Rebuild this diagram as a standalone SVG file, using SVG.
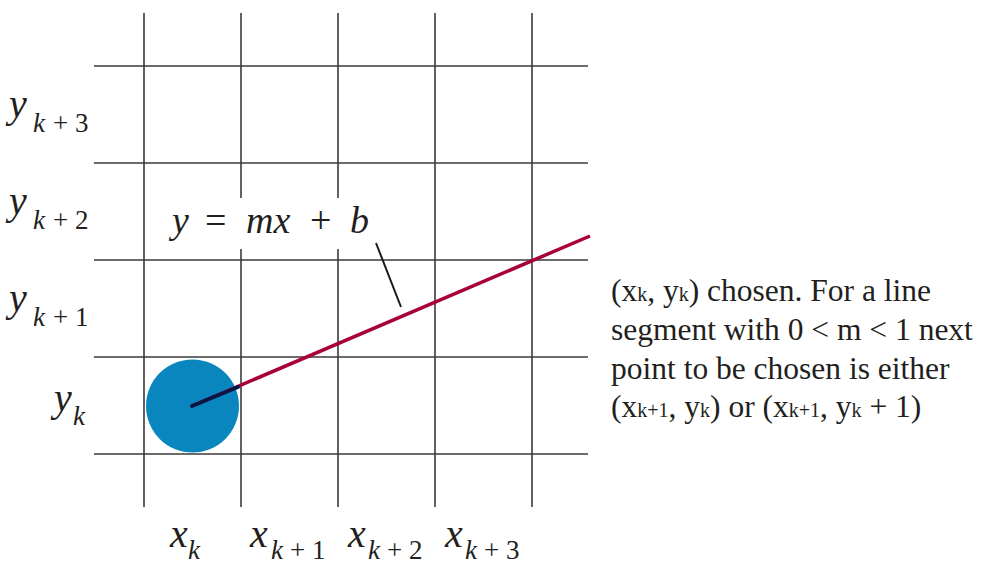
<svg xmlns="http://www.w3.org/2000/svg" width="982" height="566" viewBox="0 0 982 566">
  <style>
    .grid { stroke: #3a3a3a; stroke-width: 1.6; fill: none; }
    .mi { font-style: italic; fill: #231f20; }
    .mr { fill: #231f20; }
    .main { font-size: 40px; }
    .sub { font-size: 27px; }
    .body { font-size: 31.5px; fill: #231f20; }
    .sm { font-size: 20px; }
  </style>
  <rect width="982" height="566" fill="#ffffff"/>

  <g id="grid">
    <line class="grid" x1="144" y1="13" x2="144" y2="507"/>
    <line class="grid" x1="241" y1="13" x2="241" y2="507"/>
    <line class="grid" x1="338" y1="13" x2="338" y2="507"/>
    <line class="grid" x1="435" y1="13" x2="435" y2="507"/>
    <line class="grid" x1="532" y1="13" x2="532" y2="507"/>
    <line class="grid" x1="94" y1="66" x2="588" y2="66"/>
    <line class="grid" x1="94" y1="163" x2="588" y2="163"/>
    <line class="grid" x1="94" y1="260" x2="588" y2="260"/>
    <line class="grid" x1="94" y1="357" x2="588" y2="357"/>
    <line class="grid" x1="94" y1="454" x2="588" y2="454"/>
  </g>

  <g id="y-labels" font-family="Liberation Serif, DejaVu Serif, serif">
    <text x="9" y="117"><tspan class="mi main">y</tspan><tspan class="mi sub" x="33" y="132">k</tspan><tspan class="mr sub" x="53" y="132">+ 3</tspan></text>
    <text x="9" y="214"><tspan class="mi main">y</tspan><tspan class="mi sub" x="33" y="229">k</tspan><tspan class="mr sub" x="53" y="229">+ 2</tspan></text>
    <text x="9" y="311"><tspan class="mi main">y</tspan><tspan class="mi sub" x="33" y="326">k</tspan><tspan class="mr sub" x="53" y="326">+ 1</tspan></text>
    <text x="54" y="411"><tspan class="mi main">y</tspan><tspan class="mi sub" x="73" y="425">k</tspan></text>
  </g>

  <g id="x-labels" font-family="Liberation Serif, DejaVu Serif, serif">
    <text x="170" y="547"><tspan class="mi main">x</tspan><tspan class="mi sub" x="188" y="559">k</tspan></text>
    <text x="250" y="547"><tspan class="mi main">x</tspan><tspan class="mi sub" x="271" y="559">k</tspan><tspan class="mr sub" x="290" y="559">+ 1</tspan></text>
    <text x="348" y="547"><tspan class="mi main">x</tspan><tspan class="mi sub" x="368" y="559">k</tspan><tspan class="mr sub" x="387" y="559">+ 2</tspan></text>
    <text x="445" y="547"><tspan class="mi main">x</tspan><tspan class="mi sub" x="465" y="559">k</tspan><tspan class="mr sub" x="484" y="559">+ 3</tspan></text>
  </g>

  <g id="equation" font-family="Liberation Serif, DejaVu Serif, serif">
    <rect x="160" y="198" width="218" height="51" fill="#ffffff"/>
    <text y="233" font-size="38"><tspan class="mi" x="172">y</tspan><tspan class="mr" x="205">=</tspan><tspan class="mi" x="246">mx</tspan><tspan class="mr" x="310">+</tspan><tspan class="mi" x="350">b</tspan></text>
  </g>

  <g id="pixel">
    <circle cx="192.5" cy="406" r="46.5" fill="#0a86bf"/>
  </g>

  <g id="connectors">
    <line x1="192" y1="406" x2="590" y2="236" stroke="#a8003c" stroke-width="3.5"/>
    <line x1="192" y1="406" x2="238" y2="387" stroke="#0b1646" stroke-width="4" stroke-linecap="round"/>
    <line x1="376" y1="243" x2="401" y2="307" stroke="#1a1a1a" stroke-width="2"/>
  </g>

  <g id="caption" class="body" font-family="Liberation Serif, DejaVu Serif, serif">
    <text x="611" y="301">(x<tspan class="sm">k</tspan>, y<tspan class="sm">k</tspan>) chosen. For a line</text>
    <text x="611" y="340">segment with 0 &lt; m &lt; 1 next</text>
    <text x="611" y="379">point to be chosen is either</text>
    <text x="611" y="417">(x<tspan class="sm">k+1</tspan>, y<tspan class="sm">k</tspan>) or (x<tspan class="sm">k+1</tspan>, y<tspan class="sm">k</tspan> + 1)</text>
  </g>
</svg>
